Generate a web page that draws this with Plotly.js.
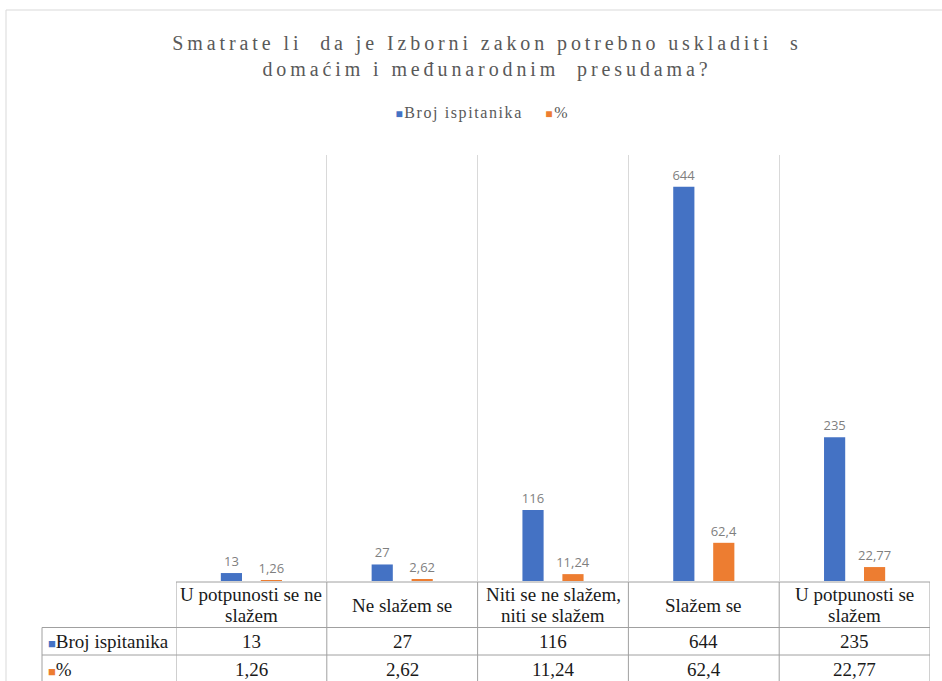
<!DOCTYPE html>
<html>
<head>
<meta charset="utf-8">
<script src="https://cdn.plot.ly/plotly-3.0.1.min.js"></script>
<style>
html,body{margin:0;padding:0;background:#fff;}
#chart{width:942px;height:681px;}
.gtitle{letter-spacing:3.9px;}
.annotation[data-index="0"] text{letter-spacing:1.6px;}
</style>
</head>
<body>
<div id="chart"></div>
<script>
// ---- data ----
var categories = ['U potpunosti se ne slažem', 'Ne slažem se', 'Niti se ne slažem, niti se slažem', 'Slažem se', 'U potpunosti se slažem'];
var tableHeaderLabels = [['U potpunosti se ne', 'slažem'], ['Ne slažem se'], ['Niti se ne slažem,', 'niti se slažem'], ['Slažem se'], ['U potpunosti se', 'slažem']];
var seriesNames = ['Broj ispitanika', '%'];
var brojIspitanika = [13, 27, 116, 644, 235];
var postotak = [1.26, 2.62, 11.24, 62.4, 22.77];
var seriesColors = ['#4472C4', '#ED7D31'];
var titleText = 'Smatrate li  da je Izborni zakon potrebno uskladiti  s<br>domaćim i međunarodnim  presudama?';

function fmt(v){ return String(v).replace('.', ','); }

var W = 942, H = 681;
var plotL = 176, plotR = 930, plotT = 155, plotB = 581;
var plotW = plotR - plotL, plotH = plotB - plotT;
function px2xp(px){ return (px - plotL) / plotW; }   // pixel -> paper x
function py2yp(py){ return (plotB - py) / plotH; }   // pixel -> paper y

var labelFont = {family: 'Open Sans, Liberation Sans, sans-serif', size: 13, color: '#7f7f7f'};
var tableFont = {family: 'Liberation Serif, Times New Roman, serif', size: 19, color: '#1a1a1a'};
var lineStyle = {color: '#a0a0a0', width: 1};

var series = [brojIspitanika, postotak];
var traces = series.map(function(vals, s){
  return {
    type: 'bar', name: seriesNames[s], x: categories, y: vals,
    marker: {color: seriesColors[s]},
    text: vals.map(fmt), textposition: 'outside', textfont: labelFont,
    constraintext: 'none',
    cliponaxis: false, hoverinfo: 'x+y'
  };
});

// ---- legend (as text with coloured keys) ----
var annotations = [{
  xref: 'paper', yref: 'paper', x: px2xp(482), y: py2yp(113),
  xanchor: 'center', yanchor: 'middle', showarrow: false,
  text: seriesNames.map(function(n, s){
    return '<span style="color:' + seriesColors[s] + ';font-size:12px">■</span>' + n;
  }).join('    '),
  font: {family: 'Liberation Serif, Times New Roman, serif', size: 16, color: '#595959'}
}];

// ---- data table under the chart ----
var headerCenter = 605, headerLineGap = 20.5;
var rowY = [py2yp(641), py2yp(669)];
categories.forEach(function(c, i){
  var lines = tableHeaderLabels[i];
  lines.forEach(function(t, k){
    var py = headerCenter + (k - (lines.length - 1) / 2) * headerLineGap;
    annotations.push({
      xref: 'x', yref: 'paper', x: c, y: py2yp(py), xanchor: 'center', yanchor: 'middle',
      showarrow: false, text: t, font: tableFont
    });
  });
  series.forEach(function(vals, s){
    annotations.push({
      xref: 'x', yref: 'paper', x: c, y: rowY[s], xanchor: 'center', yanchor: 'middle',
      showarrow: false, text: fmt(vals[i]), font: tableFont
    });
  });
});
seriesNames.forEach(function(n, s){
  annotations.push({
    xref: 'paper', yref: 'paper', x: px2xp(46), y: rowY[s], xanchor: 'left', yanchor: 'middle',
    showarrow: false,
    text: '<span style="color:' + seriesColors[s] + ';font-size:13px">■</span>' + n,
    font: tableFont
  });
});

var shapes = [];
// outer chart frame
shapes.push({type: 'rect', xref: 'paper', yref: 'paper',
  x0: px2xp(6), x1: px2xp(W + 5), y0: py2yp(H + 10), y1: py2yp(10),
  line: {color: '#d9d9d9', width: 1}, fillcolor: 'rgba(0,0,0,0)', layer: 'below'});
// table horizontal lines
shapes.push({type: 'line', xref: 'paper', yref: 'paper', x0: 0, x1: 1, y0: py2yp(582), y1: py2yp(582), line: lineStyle});
[627.5, 655, 683].forEach(function(py){
  shapes.push({type: 'line', xref: 'paper', yref: 'paper', x0: px2xp(42), x1: 1, y0: py2yp(py), y1: py2yp(py), line: lineStyle});
});
// table vertical lines (category boundaries)
for (var b = 0; b <= categories.length; b++) {
  shapes.push({type: 'line', xref: 'x', yref: 'paper', x0: b - 0.5, x1: b - 0.5,
    y0: py2yp(582), y1: py2yp(H + 5), line: lineStyle});
}
shapes.push({type: 'line', xref: 'paper', yref: 'paper', x0: px2xp(42), x1: px2xp(42),
  y0: py2yp(627.5), y1: py2yp(H + 5), line: lineStyle});

var layout = {
  width: W, height: H,
  margin: {l: plotL, r: W - plotR, t: plotT, b: H - plotB, pad: 0},
  paper_bgcolor: '#ffffff', plot_bgcolor: '#ffffff',
  barmode: 'group',
  bargap: 0.47,
  bargroupgap: 0.47,
  showlegend: false,
  title: {
    text: titleText,
    font: {family: 'Liberation Serif, Times New Roman, serif', size: 20, color: '#595959'},
    x: 487 / W, xref: 'container', xanchor: 'center',
    y: 1 - 50 / H, yref: 'container', yanchor: 'middle'
  },
  xaxis: {
    type: 'category',
    range: [-0.5, categories.length - 0.5],
    showticklabels: false,
    ticks: '',
    tickson: 'boundaries',
    showgrid: true, gridcolor: '#d9d9d9', gridwidth: 1,
    showline: false, zeroline: false, fixedrange: true
  },
  yaxis: {
    range: [0, 696],
    visible: false, showgrid: false, zeroline: false, fixedrange: true
  },
  annotations: annotations,
  shapes: shapes
};

Plotly.newPlot('chart', traces, layout, {displayModeBar: false});
</script>
</body>
</html>
